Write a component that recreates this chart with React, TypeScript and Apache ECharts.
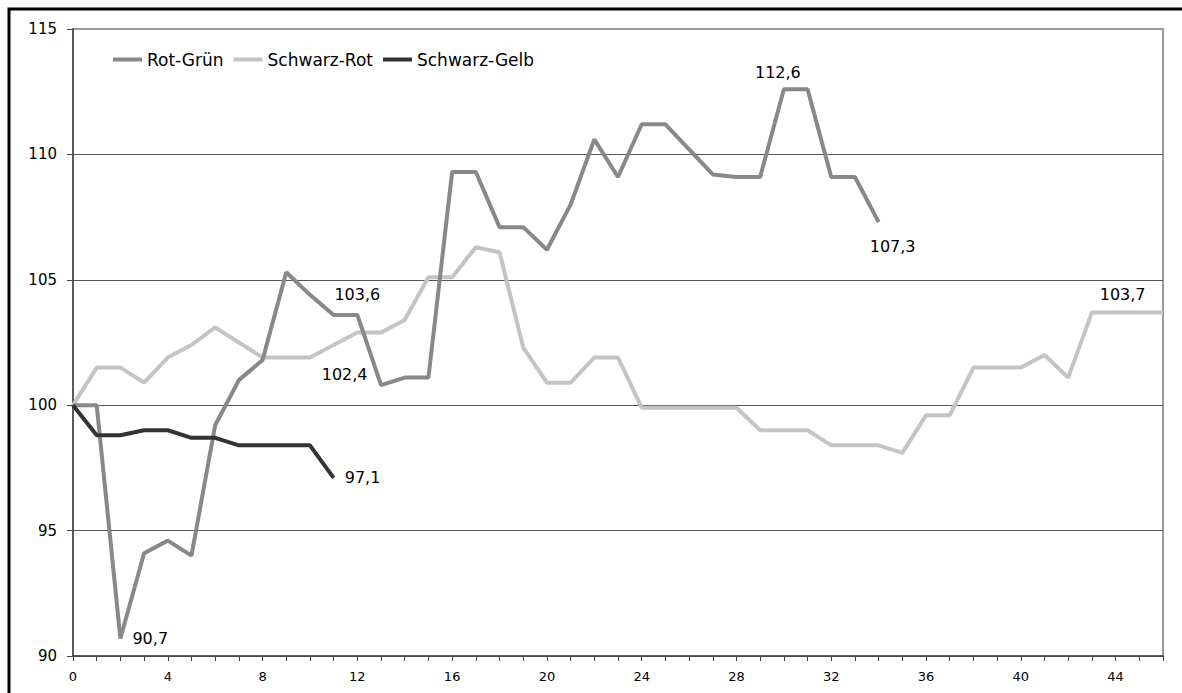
import { useEffect, useRef } from 'react';
import * as echarts from 'echarts';

// x categories (0..46)
const weeks = ['0','1','2','3','4','5','6','7','8','9','10','11','12','13','14','15','16','17','18','19','20','21','22','23','24','25','26','27','28','29','30','31','32','33','34','35','36','37','38','39','40','41','42','43','44','45','46'];

const seriesNames = ['Rot-Grün', 'Schwarz-Rot', 'Schwarz-Gelb'];

const rotGruen = [100, 100, 90.7, 94.1, 94.6, 94.0, 99.2, 101.0, 101.8, 105.3, 104.4, 103.6, 103.6, 100.8, 101.1, 101.1, 109.3, 109.3, 107.1, 107.1, 106.2, 108.0, 110.6, 109.1, 111.2, 111.2, 110.2, 109.2, 109.1, 109.1, 112.6, 112.6, 109.1, 109.1, 107.3];

const schwarzRot = [100, 101.5, 101.5, 100.9, 101.9, 102.4, 103.1, 102.5, 101.9, 101.9, 101.9, 102.4, 102.9, 102.9, 103.4, 105.1, 105.1, 106.3, 106.1, 102.3, 100.9, 100.9, 101.9, 101.9, 99.9, 99.9, 99.9, 99.9, 99.9, 99.0, 99.0, 99.0, 98.4, 98.4, 98.4, 98.1, 99.6, 99.6, 101.5, 101.5, 101.5, 102.0, 101.1, 103.7, 103.7, 103.7, 103.7];

const schwarzGelb = [100, 98.8, 98.8, 99.0, 99.0, 98.7, 98.7, 98.4, 98.4, 98.4, 98.4, 97.1];

const yMin = 90;
const yMax = 115;
const yStep = 5;

const FONT = 'DejaVu Sans';

// which points carry a value label, and where
const labelSpots: Record<string, Record<number, any>> = {
  'Rot-Grün': {
    2: { position: 'right', distance: 12 },
    12: { position: 'top', distance: 12 },
    30: { position: 'top', distance: 9, offset: [-6, 0] },
    34: { position: 'bottom', distance: 16, offset: [14, 0] },
  },
  'Schwarz-Rot': {
    11: { position: 'bottom', distance: 21, offset: [11, 0] },
    44: { position: 'top', distance: 10, offset: [7, 0] },
  },
  'Schwarz-Gelb': {
    11: { position: 'right', distance: 11 },
  },
};

const colors = ['#888888', '#c4c4c4', '#333333'];

function build(name: string, values: number[]) {
  const spots = labelSpots[name] || {};
  return values.map((v, i) =>
    spots[i]
      ? {
          value: v,
          label: {
            show: true,
            formatter: (p: any) => Number(p.value).toFixed(1).replace('.', ','),
            color: '#000',
            fontSize: 16,
            fontFamily: FONT,
            ...spots[i],
          },
        }
      : v
  );
}

export default function App() {
  const ref = useRef<HTMLDivElement>(null);
  useEffect(() => {
    if (!ref.current) return;
    const chart = echarts.init(ref.current, undefined, { renderer: 'svg' });
    const allValues = [rotGruen, schwarzRot, schwarzGelb];
    chart.setOption({
      animation: false,
      backgroundColor: '#fff',
      grid: {
        left: 73,
        right: 19,
        top: 29,
        bottom: 37,
        show: true,
        borderColor: '#9a9a9a',
        borderWidth: 2,
        outerBoundsMode: 'none',
      },
      legend: {
        data: seriesNames,
        left: 113,
        top: 51,
        padding: 0,
        icon: 'rect',
        itemWidth: 29,
        itemHeight: 4,
        itemGap: 10,
        textStyle: { fontSize: 17, fontFamily: FONT, color: '#000' },
      },
      xAxis: {
        type: 'category',
        data: weeks,
        boundaryGap: false,
        axisLine: { lineStyle: { color: '#444', width: 1.5 } },
        axisTick: { show: true, interval: 0, length: 5, lineStyle: { color: '#444' } },
        axisLabel: { interval: 3, margin: 14, fontSize: 13, fontFamily: FONT, color: '#000' },
        splitLine: { show: false },
      },
      yAxis: {
        type: 'value',
        min: yMin,
        max: yMax,
        interval: yStep,
        axisLine: { show: true, lineStyle: { color: '#444', width: 1.5 } },
        axisTick: { show: true, length: 6, lineStyle: { color: '#444' } },
        axisLabel: { margin: 16, fontSize: 15, fontFamily: FONT, color: '#000' },
        splitLine: {
          show: true,
          lineStyle: { color: ['#555', '#555', '#555', '#555', '#555', '#9a9a9a'], width: 1 },
        },
      },
      graphic: [
        {
          type: 'rect',
          shape: { x: 9, y: 9, width: 1300, height: 800 },
          style: { fill: 'none', stroke: '#000', lineWidth: 3 },
          silent: true,
        },
      ],
      series: seriesNames.map((name, k) => ({
        name,
        type: 'line',
        data: build(name, allValues[k]),
        symbol: 'circle',
        symbolSize: 0.1,
        showSymbol: true,
        showAllSymbol: true,
        color: colors[k],
        itemStyle: { color: colors[k] },
        lineStyle: { color: colors[k], width: 4 },
        emphasis: { disabled: true },
        silent: true,
        z: k === 2 ? 4 : k === 0 ? 3 : 2,
      })),
    });
    return () => chart.dispose();
  }, []);
  return (
    <div
      ref={ref}
      style={{ position: 'fixed', left: 0, top: 0, width: 1182, height: 693 }}
    />
  );
}
